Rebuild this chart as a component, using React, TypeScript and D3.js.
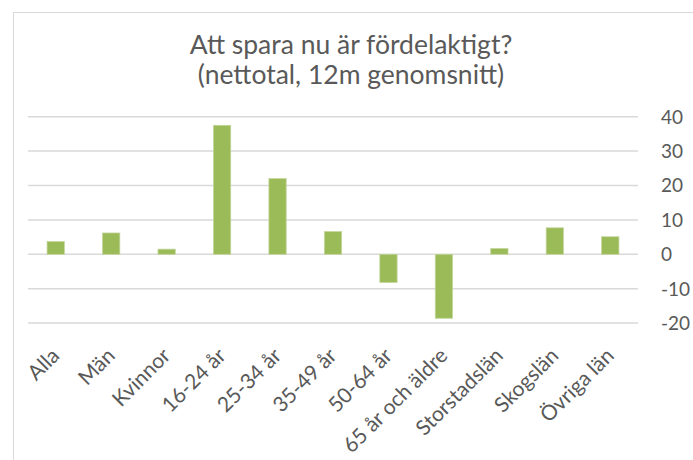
import React from 'react';
import * as d3 from 'd3';

const categories = [
  'Alla', 'Män', 'Kvinnor', '16-24 år', '25-34 år', '35-49 år',
  '50-64 år', '65 år och äldre', 'Storstadslän', 'Skogslän', 'Övriga län',
];
const values = [3.7, 6.2, 1.5, 37.5, 22.0, 6.6, -8.2, -18.6, 1.7, 7.7, 5.1];
const yTicks = [-20, -10, 0, 10, 20, 30, 40];
const titleLines = ['Att spara nu är fördelaktigt?', '(nettotal, 12m genomsnitt)'];

const W = 693;
const H = 460;
const left = 28;
const right = 638;
const top = 116.7;
const bottom = 323.1;
const font = 'Lato, Carlito, Calibri, sans-serif';
const textColor = '#595959';

export default function App() {
  const x = d3.scaleBand<string>()
    .domain(categories)
    .range([left, right])
    .paddingInner(0.688)
    .paddingOuter(0.344);

  const y = d3.scaleLinear().domain([-20, 40]).range([bottom, top]);

  return (
    <svg width={W} height={H} style={{ position: 'absolute', left: 0, top: 0, display: 'block' }}>
      <rect x={0} y={0} width={W} height={H} fill="#fff" />
      <rect x={13.5} y={12.5} width={W + 10} height={H + 10} fill="none" stroke="#d9d9d9" strokeWidth={1} />

      {titleLines.map((t, i) => (
        <text key={t} x={351} y={53.5 + i * 30.5} textAnchor="middle"
          fontFamily={font} fontSize={26.5} fill={textColor}>{t}</text>
      ))}

      {yTicks.map(t => (
        <g key={t}>
          <line x1={left} x2={right} y1={y(t)} y2={y(t)} stroke="#d9d9d9" strokeWidth={1.5} />
          <text x={661} y={y(t)} dy="0.36em" fontFamily={font} fontSize={19} fill={textColor}>{t}</text>
        </g>
      ))}

      {values.map((v, i) => {
        const c = categories[i];
        const y0 = y(Math.max(0, v));
        const y1 = y(Math.min(0, v));
        return (
          <rect key={c} x={x(c)} y={y0} width={x.bandwidth()} height={y1 - y0}
            fill="#9bbb59" stroke="#c3d69b" strokeWidth={0.75} />
        );
      })}

      {categories.map(c => {
        const cx = (x(c) ?? 0) + x.bandwidth() / 2 + 5;
        return (
          <text key={c} transform={`translate(${cx},357) rotate(-45)`} textAnchor="end"
            fontFamily={font} fontSize={21} fill={textColor}>{c}</text>
        );
      })}
    </svg>
  );
}
